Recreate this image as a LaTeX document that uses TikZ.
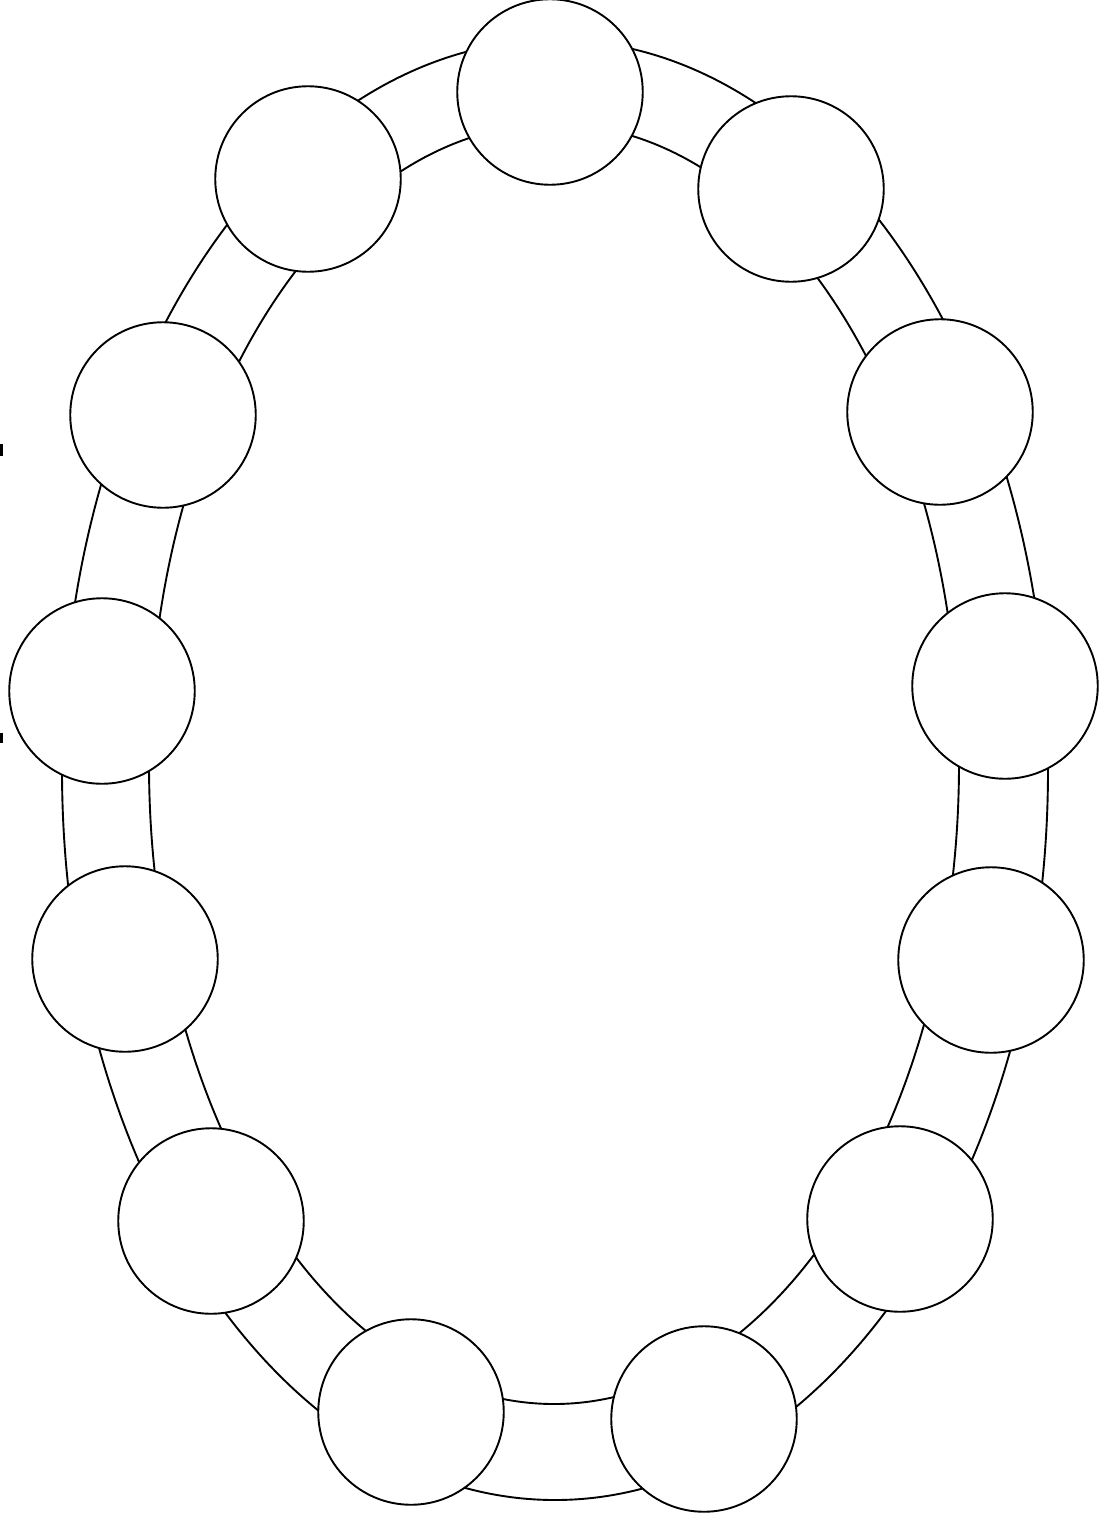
\documentclass[tikz,border=0pt]{standalone}
\begin{document}
\begin{tikzpicture}[x=1pt,y=-1pt,
  ringline/.style={draw=black,line width=1.9pt},
  ball/.style={circle,draw=black,fill=white,line width=1.9pt,minimum size=185.5pt,inner sep=0pt},
  tick/.style={fill=black}]
\useasboundingbox (0,0) rectangle (1102,1524);
\fill[white] (0,0) rectangle (1102,1524);
% ring
\coordinate (oc) at (555,770);
\coordinate (ic) at (554,764);
\draw[ringline] (oc) ellipse [x radius=493pt, y radius=730pt];
\draw[ringline] (ic) ellipse [x radius=405pt, y radius=640pt];
% beads
\node[ball] (b1)  at (550,92)   {};
\node[ball] (b2)  at (308,179)  {};
\node[ball] (b3)  at (791,189)  {};
\node[ball] (b4)  at (163,415)  {};
\node[ball] (b5)  at (940,412)  {};
\node[ball] (b6)  at (102,691)  {};
\node[ball] (b7)  at (1005,686) {};
\node[ball] (b8)  at (125,959)  {};
\node[ball] (b9)  at (991,960)  {};
\node[ball] (b10) at (211,1221) {};
\node[ball] (b11) at (900,1219) {};
\node[ball] (b12) at (411,1412) {};
\node[ball] (b13) at (704,1419) {};
% small marks at left edge
\fill[tick] (0,444) rectangle (2.5,456);
\fill[tick] (0,733) rectangle (2.5,743);
\end{tikzpicture}
\end{document}
